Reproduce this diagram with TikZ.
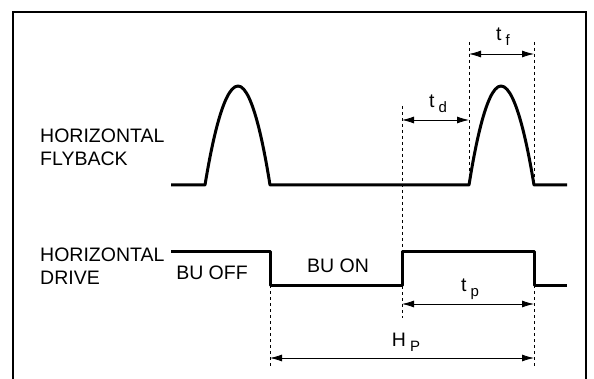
\documentclass[tikz,border=0pt]{standalone}
\usepackage{fontspec}
\setmainfont{Liberation Sans}
\usetikzlibrary{arrows.meta}
\newcommand{\lowsub}[1]{\kern4pt\raisebox{-5pt}{\fontsize{15}{15}\selectfont #1}}

\begin{document}
\begin{tikzpicture}[x=1pt,y=-1pt,
  wave/.style={line width=3pt,line join=round},
  guide/.style={line width=0.8pt,dash pattern=on 3pt off 3pt},
  dim/.style={line width=0.8pt,{Latex[length=12pt,width=7pt]}-{Latex[length=12pt,width=7pt]}},
  lbl/.style={inner sep=0pt,font=\fontsize{19.5}{23}\selectfont}]
\useasboundingbox (0,0) rectangle (594,379);
% frame
\draw [line width=2pt] (13,379) -- (13,12) -- (586,12) -- (586,379);
% signal names
\node [lbl,anchor=west,align=left] (flyname) at (40,147) {HORIZONTAL\\FLYBACK};
\node [lbl,anchor=west,align=left] (drvname) at (40,266) {HORIZONTAL\\DRIVE};
% flyback pulses
\draw [wave] (171,185) -- (205,185) parabola bend (238,86) (270,185)
  -- (469,185) parabola bend (501,86) (534,185) -- (567,185);
% drive
\draw [wave] (171,252) -- (270,252) -- (270,285) -- (402,285)
  -- (402,252) -- (534,252) -- (534,285) -- (567,285);
\node [lbl] (buoff) at (212,273) {BU OFF};
\node [lbl] (buon) at (338,266) {BU ON};
% guide lines
\coordinate (offA) at (270,285);  \coordinate (offB) at (270,367);
\coordinate (onA) at (402,106);   \coordinate (onB) at (402,318);
\coordinate (riseA) at (469,42);  \coordinate (riseB) at (469,185);
\coordinate (fallA) at (534,42);  \coordinate (fallB) at (534,185);
\coordinate (endA) at (534,285);  \coordinate (endB) at (534,367);
\foreach \g in {off,on,rise,fall,end}
  \draw [guide] (\g A) -- (\g B);
% dimensions
\coordinate (tdL) at (402,120); \coordinate (tdR) at (469,120);
\coordinate (tfL) at (469,54);  \coordinate (tfR) at (534,54);
\coordinate (tpL) at (402,304); \coordinate (tpR) at (534,304);
\coordinate (hpL) at (270,358); \coordinate (hpR) at (534,358);
\draw [dim] (tdL) -- (tdR);
\draw [dim] (tfL) -- (tfR);
\draw [dim] (tpL) -- (tpR);
\draw [dim] (hpL) -- (hpR);
\node [lbl] (tdtext) at (438,104) {t\lowsub{d}};
\node [lbl] (tftext) at (503,37) {t\lowsub{f}};
\node [lbl] (tptext) at (470,289) {t\lowsub{p}};
\node [lbl] (hptext) at (406,342) {H\lowsub{P}};
\end{tikzpicture}
\end{document}
